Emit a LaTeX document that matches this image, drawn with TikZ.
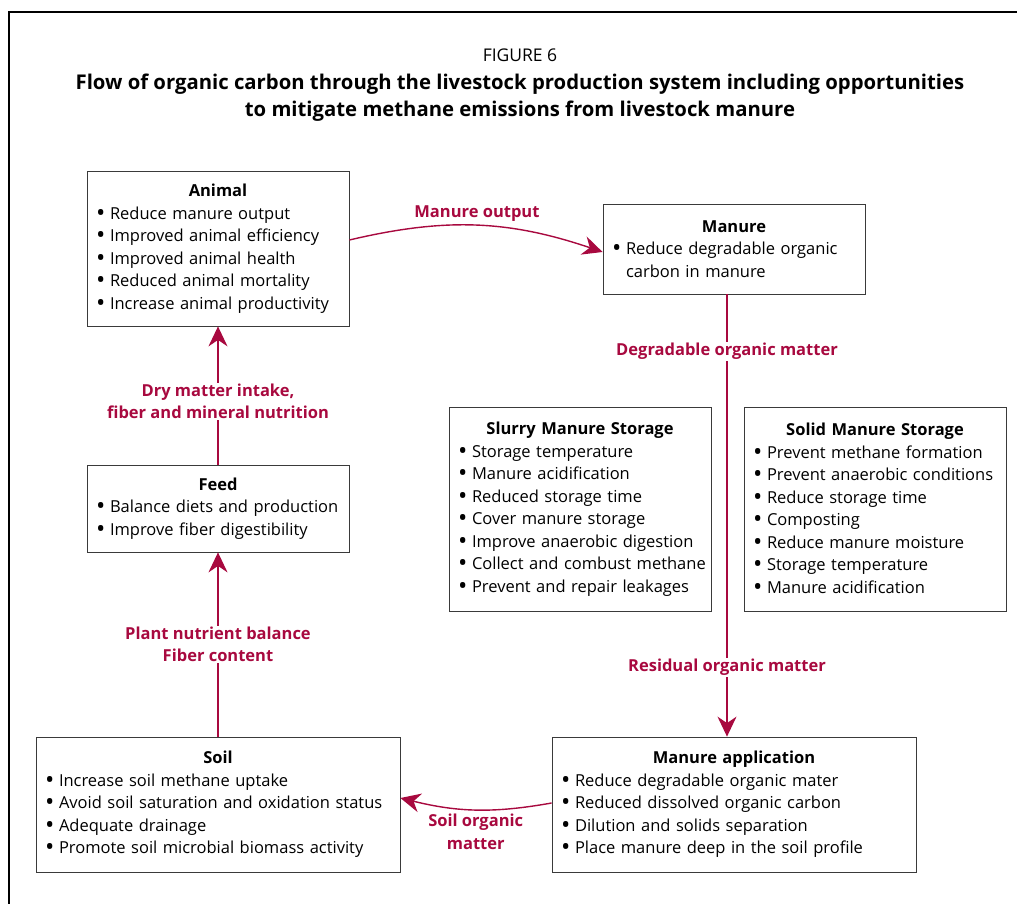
\documentclass[tikz,border=0pt]{standalone}
\usepackage{fontspec}
\setmainfont{Open Sans}
\usetikzlibrary{arrows.meta,positioning}
\definecolor{fcrimson}{HTML}{A8093F}
\definecolor{fgray}{HTML}{3A3A3A}
\newcommand{\boxhead}[1]{\noindent\makebox[\linewidth]{\bfseries #1}\par}
\newcommand{\itm}[1]{\par\hangindent=20pt\hangafter=1\noindent
  \makebox[20pt][l]{\hspace{6pt}\raisebox{-0.12em}{\scalebox{1.5}{\textbullet}}}#1\par}

\begin{document}
\begin{tikzpicture}[x=1pt, y=-1pt,
  optbox/.style={draw=fgray, line width=0.8pt, align=left, inner xsep=3pt, inner ysep=0pt, font=\fontsize{16.5}{22.5}\selectfont},
  flow/.style={-{Stealth[length=20pt, width=19pt]}, draw=fcrimson, line width=1.4pt},
  flowlabel/.style={fill=white, text=fcrimson, font=\bfseries\fontsize{16.5}{22.5}\selectfont, align=center, inner sep=1pt},
]
  \useasboundingbox (0,0) rectangle (1017,904);
  \draw[line width=1.4pt] (9,904) -- (9,12) -- (1017,12);

  % title
  \node[font=\fontsize{17.5}{22}\selectfont] (fig) at (520,55) {FIGURE 6};
  \node[font=\bfseries\fontsize{20.3}{27}\selectfont, align=center] (title) at (520,97.5)
    {Flow of organic carbon through the livestock production system including opportunities\\
     to mitigate methane emissions from livestock manure};

  % boxes
  \node[optbox, text width=256pt, minimum height=155pt] (animal) at (218,248.5) {\boxhead{Animal}
    \itm{Reduce manure output}
    \itm{Improved animal efficiency}
    \itm{Improved animal health}
    \itm{Reduced animal mortality}
    \itm{Increase animal productivity}};
  \node[optbox, text width=256pt, minimum height=90pt] (manure) at (734,249) {\boxhead{Manure}
    \itm{Reduce degradable organic\hfil\break carbon in manure}};
  \node[optbox, text width=256pt, minimum height=204pt] (slurry) at (580,509) {\boxhead{Slurry Manure Storage}
    \itm{Storage temperature}
    \itm{Manure acidification}
    \itm{Reduced storage time}
    \itm{Cover manure storage}
    \itm{Improve anaerobic digestion}
    \itm{Collect and combust methane}
    \itm{Prevent and repair leakages}};
  \node[optbox, text width=256pt, minimum height=204pt] (solid) at (875,509) {\boxhead{Solid Manure Storage}
    \itm{Prevent methane formation}
    \itm{Prevent anaerobic conditions}
    \itm{Reduce storage time}
    \itm{Composting}
    \itm{Reduce manure moisture}
    \itm{Storage temperature}
    \itm{Manure acidification}};
  \node[optbox, text width=256pt, minimum height=87pt] (feed) at (218,508.5) {\boxhead{Feed}
    \itm{Balance diets and production}
    \itm{Improve fiber digestibility}};
  \node[optbox, text width=358pt, minimum height=135pt] (soil) at (218,804.5) {\boxhead{Soil}
    \itm{Increase soil methane uptake}
    \itm{Avoid soil saturation and oxidation status}
    \itm{Adequate drainage}
    \itm{Promote soil microbial biomass activity}};
  \node[optbox, text width=358pt, minimum height=135pt] (apply) at (734,804.5) {\boxhead{Manure application}
    \itm{Reduce degradable organic mater}
    \itm{Reduced dissolved organic carbon}
    \itm{Dilution and solids separation}
    \itm{Place manure deep in the soil profile}};

  % flows
  \coordinate (spine) at (727,0);
  \draw[flow] ([yshift=8.5pt]animal.east) to[bend left=16]
    node[flowlabel, above=2pt] (outlbl) {Manure output} ([yshift=-3pt]manure.west);
  \draw[flow] (manure.south -| spine) -- (apply.north -| spine)
    node[flowlabel, pos=0.129] (deglbl) {Degradable organic matter}
    node[flowlabel, pos=0.844] (reslbl) {Residual organic matter};
  \draw[flow] ([yshift=1.5pt]apply.west) to[bend left=12]
    node[flowlabel, below=3pt] (somlbl) {Soil organic\\matter} ([yshift=6.5pt]soil.east);
  \draw[flow] (soil.north) -- (feed.south)
    node[flowlabel, pos=0.5] (plantlbl) {Plant nutrient balance\\Fiber content};
  \draw[flow] (feed.north) -- (animal.south)
    node[flowlabel, pos=0.457] (dmlbl) {Dry matter intake,\\fiber and mineral nutrition};
\end{tikzpicture}
\end{document}
